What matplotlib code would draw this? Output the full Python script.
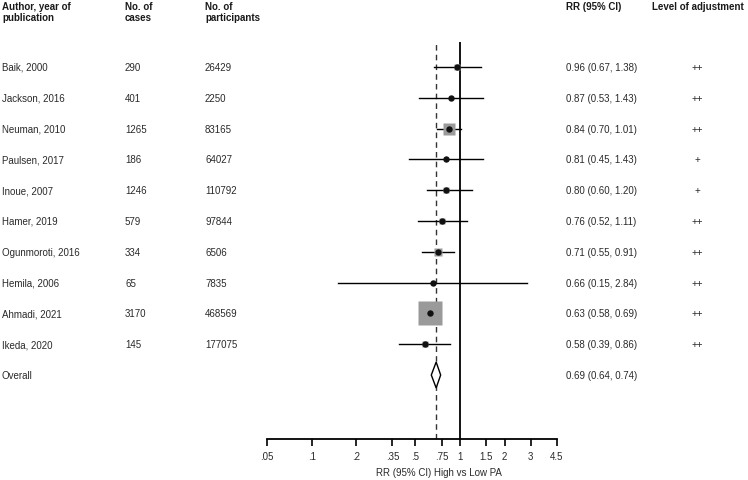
import numpy as np
import matplotlib
matplotlib.use("Agg")
import matplotlib.pyplot as plt

plt.rcParams['font.family'] = ['Liberation Sans', 'DejaVu Sans']

# study data
authors = ["Baik, 2000", "Jackson, 2016", "Neuman, 2010", "Paulsen, 2017", "Inoue, 2007",
           "Hamer, 2019", "Ogunmoroti, 2016", "Hemila, 2006", "Ahmadi, 2021", "Ikeda, 2020"]
cases = [290, 401, 1265, 186, 1246, 579, 334, 65, 3170, 145]
participants = [26429, 2250, 83165, 64027, 110792, 97844, 6506, 7835, 468569, 177075]
rr = [0.96, 0.87, 0.84, 0.81, 0.80, 0.76, 0.71, 0.66, 0.63, 0.58]
lo = [0.67, 0.53, 0.70, 0.45, 0.60, 0.52, 0.55, 0.15, 0.58, 0.39]
hi = [1.38, 1.43, 1.01, 1.43, 1.20, 1.11, 0.91, 2.84, 0.69, 0.86]
adjust = ["++", "++", "++", "+", "+", "++", "++", "++", "++", "++"]
weights = [3.5, 1.6, 16.5, 0.9, 4.8, 4.8, 7.9, 0.4, 56.0, 3.5]

overall = (0.69, 0.64, 0.74)
xticks = [0.05, 0.1, 0.2, 0.35, 0.5, 0.75, 1, 1.5, 2, 3, 4.5]
xticklabels = [".05", ".1", ".2", ".35", ".5", ".75", "1", "1.5", "2", "3", "4.5"]

W, H = 748, 481
fig = plt.figure(figsize=(W / 100, H / 100), dpi=100)

# forest axes, pixel box 267..557 x 43..440
ax = fig.add_axes([267 / W, 1 - 440 / H, (557 - 267) / W, (440 - 43) / H])
ax.set_xscale("log")
ax.set_xlim(0.05, 4.5)
row_px = 30.8
ax.set_ylim((440 - 68) / row_px, (43 - 68) / row_px)
for s in ["top", "right", "left"]:
    ax.spines[s].set_visible(False)
ax.spines["bottom"].set_linewidth(1.3)
ax.set_yticks([])
ax.set_xticks(xticks)
ax.set_xticklabels(xticklabels, fontsize=7, color="#2a2a2a")
ax.minorticks_off()
ax.tick_params(axis="x", direction="out", length=5, width=1.2, pad=4)

ax.axvline(1, color="black", lw=1.3, zorder=1)
ax.axvline(overall[0], color="#333333", lw=1, ls=(0, (4, 3)), zorder=1)

n = len(authors)
for i in range(n):
    ax.plot([lo[i], hi[i]], [i, i], color="black", lw=1.0, zorder=2)
    ax.plot(rr[i], i, marker="s", ms=2.3 * np.sqrt(weights[i]), color="#9a9a9a",
            mec="none", zorder=3)
    ax.plot(rr[i], i, marker="o", ms=4.6, color="#111111", mec="none", zorder=4)

# overall diamond
yo = n
dh = 0.42
ax.fill([overall[1], overall[0], overall[2], overall[0]], [yo, yo - dh, yo, yo + dh],
        facecolor="white", edgecolor="black", lw=1, zorder=5)

# text columns, in pixel coords
def px(x, y, s, **kw):
    fig.text(x / W, 1 - y / H, s, fontsize=7, color="#2a2a2a", va="center", **kw)

hdr = dict(fontweight="bold", color="#1a1a1a")
fig.text(2 / W, 1 - 2 / H, "Author, year of\npublication", fontsize=7, va="top",
         linespacing=1.15, **hdr)
fig.text(125 / W, 1 - 2 / H, "No. of\ncases", fontsize=7, va="top", linespacing=1.15, **hdr)
fig.text(205 / W, 1 - 2 / H, "No. of\nparticipants", fontsize=7, va="top",
         linespacing=1.15, **hdr)
fig.text(566 / W, 1 - 2 / H, "RR (95% CI)", fontsize=7, va="top", **hdr)
fig.text(652 / W, 1 - 2 / H, "Level of adjustment", fontsize=7, va="top", **hdr)

for i in range(n):
    y = 68 + i * row_px
    px(2, y, authors[i])
    px(125, y, str(cases[i]))
    px(205, y, str(participants[i]))
    px(566, y, f"{rr[i]:.2f} ({lo[i]:.2f}, {hi[i]:.2f})")
    px(697, y, adjust[i], ha="center")
y = 68 + n * row_px
px(2, y, "Overall")
px(566, y, f"{overall[0]:.2f} ({overall[1]:.2f}, {overall[2]:.2f})")

px(439, 473, "RR (95% CI) High vs Low PA", ha="center")

fig.savefig("out.png", dpi=100)
